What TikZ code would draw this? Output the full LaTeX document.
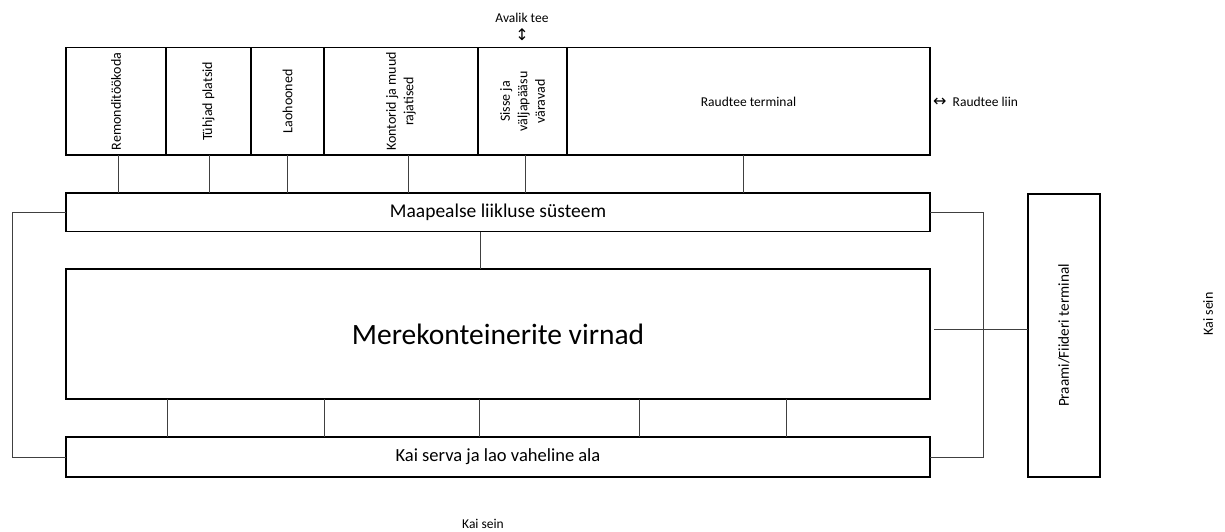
\documentclass[tikz,border=0pt]{standalone}
\usepackage{fontspec}
\setmainfont{Carlito}
\newfontfamily\nooled{DejaVu Sans}
\tikzset{
	kast/.style={draw, line width=1.4pt, inner sep=0pt, outer sep=0pt},
	vsilt/.style={font=\fontsize{13.5}{17.5}\selectfont, align=center, inner sep=0pt},
	psilt/.style={vsilt, font=\fontsize{14}{17.5}\selectfont, rotate=90},
	ssilt/.style={font=\fontsize{19.5}{23}\selectfont, inner sep=0pt},
	yhendus/.style={draw=black!75, line width=0.7pt},
}
\begin{document}
\begin{tikzpicture}[x=1pt, y=-1pt]
	\useasboundingbox (0,0) rectangle (1225,531);
		% Hooned
			\node[kast, minimum width=100, minimum height=107.3] (remont) at (116,101.4) {};
			\node[kast, minimum width=85, minimum height=107.3] (tuhjad) at (208.5,101.4) {};
			\node[kast, minimum width=73, minimum height=107.3] (ladu) at (287.5,101.4) {};
			\node[kast, minimum width=154, minimum height=107.3] (kontor) at (401,101.4) {};
			\node[kast, minimum width=89, minimum height=107.3] (varav) at (522.5,101.4) {};
			\node[kast, minimum width=363, minimum height=107.3] (raudtee) at (748.5,101.4) {};
			\node[psilt] (remonttekst) at (remont) {Remonditöökoda};
			\node[psilt] (tuhjadtekst) at (tuhjad) {Tühjad platsid};
			\node[psilt] (ladutekst) at (ladu) {Laohooned};
			\node[psilt] (kontortekst) at (kontor) {Kontorid ja muud\\rajatised};
			\node[psilt] (varavtekst) at (varav) {Sisse ja\\väljapääsu\\väravad};
			\node[vsilt] (raudteetekst) at (raudtee) {Raudtee terminal};
		% Alad
			\node[kast, minimum width=864, minimum height=38.7] (maapealne) at (498,212.3) {};
			\node[ssilt] (maapealnetekst) at (maapealne) {Maapealse liikluse süsteem};
			\node[kast, minimum width=864, minimum height=130] (virnad) at (498,334) {};
			\node[font=\fontsize{29.5}{34}\selectfont, inner sep=0pt] (virnadtekst) at (virnad) {Merekonteinerite virnad};
			\node[kast, minimum width=864, minimum height=40] (kai) at (498,457) {};
			\node[ssilt, font=\fontsize{18.5}{22}\selectfont] (kaitekst) at (kai) {Kai serva ja lao vaheline ala};
			\node[kast, minimum width=72, minimum height=283] (praam) at (1064,335.5) {};
			\node[psilt, font=\fontsize{15.2}{18}\selectfont] (praamtekst) at (praam) {Praami/Fiideri terminal};
		% Ühendused
			\draw[yhendus] ([xshift=2]remont.south) -- ([xshift=2]remont.south |- maapealne.north);
			\draw[yhendus] ([xshift=0.5]tuhjad.south) -- ([xshift=0.5]tuhjad.south |- maapealne.north);
			\draw[yhendus] ([xshift=-0.5]ladu.south) -- ([xshift=-0.5]ladu.south |- maapealne.north);
			\draw[yhendus] ([xshift=7]kontor.south) -- ([xshift=7]kontor.south |- maapealne.north);
			\draw[yhendus] ([xshift=2.5]varav.south) -- ([xshift=2.5]varav.south |- maapealne.north);
			\draw[yhendus] ([xshift=-5.5]raudtee.south) -- ([xshift=-5.5]raudtee.south |- maapealne.north);
			\draw[yhendus] ([xshift=-18]maapealne.south) -- ([xshift=-18]maapealne.south |- virnad.north);
			\foreach \dx in {101,258,413,573,720}
				\draw[yhendus] ([xshift=\dx]virnad.south west) -- ([xshift=\dx]kai.north west);
			\draw[yhendus] (maapealne.west) -- ++(-54,0) |- (kai.west);
			\draw[yhendus] (maapealne.east) -- ++(53,0) |- (kai.east);
			\draw[yhendus] ([xshift=4,yshift=5]virnad.east) -- ([yshift=5]virnad.east -| praam.west);
		% Muud sildid
			\node[vsilt] (avalik) at (522,27) {Avalik tee\\[1pt]{\nooled\fontsize{16}{16}\selectfont ↕}};
			\node[vsilt, anchor=west] (raudteeliin) at ([xshift=3]raudtee.east) {{\nooled\fontsize{16}{16}\selectfont ↔}\ \ Raudtee liin};
			\node[vsilt] (kaisein) at (483,524) {Kai sein};
			\node[psilt] (kaiseinparem) at (1208,314) {Kai sein};
\end{tikzpicture}
\end{document}
